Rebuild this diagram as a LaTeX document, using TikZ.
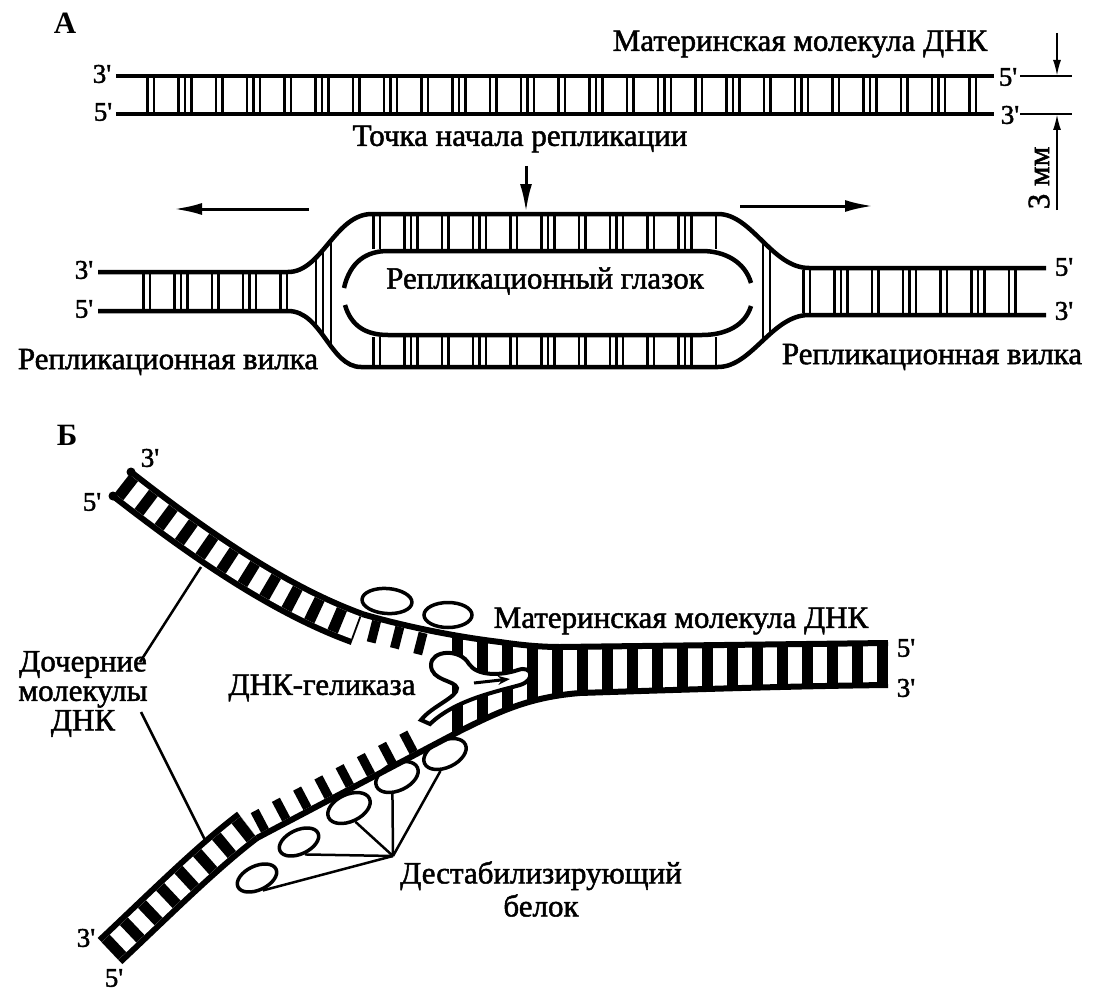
\documentclass[tikz,border=0pt]{standalone}
\usepackage{fontspec}
\setmainfont{Liberation Serif}
\newfontfamily\scanfont{Liberation Serif}[FakeBold=1.6]
\newcommand{\pr}{\textquotesingle}
\usetikzlibrary{arrows.meta,shapes.geometric}

\begin{document}
\begin{tikzpicture}[x=1pt,y=-1pt,
    txt/.style={font=\scanfont\fontsize{31}{33}\selectfont, inner sep=0pt},
    tag/.style={font=\scanfont\fontsize{27}{29}\selectfont, inner sep=0pt},
    strand/.style={line width=4.5pt},
    pairs/.style={line width=#1, dash pattern=on 2.5pt off 4pt on 2.5pt off 22pt on 2.5pt off 4pt on 2.5pt off 4pt on 2.5pt off 22pt},
    rod/.style={line width=2.5pt},
    spread/.style={line width=3pt, -{Latex[length=28pt,width=12pt]}},
    gauge/.style={line width=2pt, -{Latex[length=16pt,width=8pt]}},
    ribbon/.style={line width=6pt, double distance=24pt},
    bars/.style={line width=24pt, dash pattern=on 11pt off 14pt},
    pstrand/.style={line width=6pt},
    teeth/.style={line width=22pt, dash pattern=on 9pt off 15pt},
    ssb/.style={draw, ellipse, line width=3.5pt, minimum width=42pt, minimum height=24pt, inner sep=0pt},
    enzyme/.style={line width=4pt, fill=white},
    leader/.style={line width=2.5pt}]
    \useasboundingbox (0,0) rectangle (1098,1006);

    % part A: parent molecule
    \node[txt, font=\bfseries\fontsize{31}{33}\selectfont] (lblA) at (65,23) {А};
    \node[txt] (parentA) at (800,44) {Материнская молекула ДНК};
    \draw[strand] (116,76) -- (994,76);
    \draw[strand] (116,114) -- (994,114);
    \draw[pairs=34pt] (146,95) -- (988,95);
    \node[tag] (a3l) at (102,74) {3\pr};
    \node[tag] (a5l) at (103,112) {5\pr};
    \node[tag] (a5r) at (1008,77) {5\pr};
    \node[tag] (a3r) at (1010,115) {3\pr};

    % 3 mm gauge
    \coordinate (g5) at (1057,76);
    \coordinate (g3) at (1057,114);
    \draw[line width=2pt] (1020,76) -- (1072,76);
    \draw[line width=2pt] (1020,114) -- (1072,114);
    \draw[gauge] (1057,33) -- (g5);
    \draw[gauge] (1057,210) -- (g3);
    \node[txt, rotate=90] (mm) at (1039,178) {3 мм};

    % origin and fork movement
    \node[txt] (origin) at (520,139) {Точка начала репликации};
    \coordinate (eyetop) at (526,212);
    \draw[spread] (526,166) -- (eyetop);
    \coordinate (goleft) at (174,209);
    \coordinate (goright) at (873,206);
    \draw[spread] (309,209) -- (goleft);
    \draw[spread] (740,206) -- (goright);

    % part A: replication eye
    \draw[strand] (98,272) -- (288,272) .. controls (322,272) and (335,214) .. (372,214) -- (718,214) .. controls (752,214) and (772,268) .. (809,268) -- (1046,268);
    \draw[strand] (98,311) -- (288,311) .. controls (322,311) and (330,367) .. (361,367) -- (718,367) .. controls (752,367) and (772,315) .. (809,315) -- (1046,315);
    \draw[strand] (344,288) .. controls (350,262) and (366,251) .. (388,251) -- (702,251) .. controls (725,251) and (745,262) .. (751,283);
    \draw[strand] (345,305) .. controls (351,326) and (366,335) .. (388,335) -- (702,335) .. controls (725,335) and (745,326) .. (751,306);
    \draw[pairs=35pt] (142,291.5) -- (292,291.5);
    \draw[pairs=33pt] (372,232.5) -- (720,232.5);
    \draw[pairs=28pt] (372,351) -- (720,351);
    \draw[pairs=43pt] (802,291.5) -- (1032,291.5);
    \begin{scope}
        \clip (288,272) .. controls (322,272) and (335,214) .. (372,214) -- (372,367) -- (361,367) .. controls (330,367) and (322,311) .. (288,311) -- cycle;
        \foreach \x in {316,323,331} \draw[rod] (\x,200) -- (\x,380);
    \end{scope}
    \begin{scope}
        \clip (718,214) .. controls (752,214) and (772,268) .. (809,268) -- (809,315) .. controls (772,315) and (752,367) .. (718,367) -- cycle;
        \foreach \x in {763,770} \draw[rod] (\x,200) -- (\x,380);
    \end{scope}
    \node[tag] (e3l) at (84,270) {3\pr};
    \node[tag] (e5l) at (84,309) {5\pr};
    \node[tag] (e5r) at (1064,267) {5\pr};
    \node[tag] (e3r) at (1064,311) {3\pr};
    \node[txt] (eye) at (545,281) {Репликационный глазок};
    \node[txt] (forkl) at (168,362) {Репликационная вилка};
    \node[txt] (forkr) at (932,357) {Репликационная вилка};

    % part B: daughter ribbons
    \node[txt, font=\bfseries\fontsize{31}{33}\selectfont] (lblB) at (67,435) {Б};
    \draw[ribbon] (122,484) .. controls (200,545) and (280,600) .. (357,628);
    \draw[bars] (122,484) .. controls (200,545) and (280,600) .. (357,628);
    \fill (131,472) circle (4.5pt);
    \fill (113,496) circle (4.5pt);
    \draw[ribbon] (110,951) .. controls (160,904) and (206,858) .. (248,826);
    \draw[bars] (110,951) .. controls (160,904) and (206,858) .. (248,826);

    % part B: parent strands and fork
    \draw[pstrand] (362,614) .. controls (400,625) and (450,636) .. (500,642) .. controls (520,645) and (540,647) .. (560,647) -- (888,643);
    \draw[pstrand] (257,838) -- (460,731) .. controls (500,711) and (530,697) .. (580,693) .. controls (700,689) and (800,686) .. (888,685);
    \draw[teeth] (369.5,630.6) -- (432.5,646.6);
    \draw[teeth] (255.8,822.8) -- (418.5,737.1);
    \begin{scope}
        \clip (362,614) .. controls (400,625) and (450,636) .. (500,642) .. controls (520,645) and (540,647) .. (560,647) -- (888,643) -- (888,685) .. controls (800,686) and (700,689) .. (580,693) .. controls (530,697) and (500,711) .. (460,731) -- (362,783) -- cycle;
        \draw[line width=120pt, dash pattern=on 11pt off 14pt] (452,684) -- (888,684);
    \end{scope}
    \draw[enzyme] (421,720) .. controls (432,706) and (458,697) .. (457,688)
        .. controls (455,680) and (431,681) .. (431,665)
        .. controls (431,650) and (460,648) .. (469,664)
        .. controls (477,676) and (500,676) .. (518,670)
        .. controls (532,665) and (536,680) .. (520,685)
        .. controls (495,692) and (455,700) .. (430,724) -- cycle;
    \draw[line width=3pt, -{Stealth[length=12pt,width=9pt]}] (474,683) -- (510,679);

    % part B: proteins
    \node[ssb, minimum width=50pt, minimum height=25pt, rotate=-4] (ea) at (387,601) {};
    \node[ssb, minimum width=48pt, minimum height=25pt] (eb) at (448,615) {};
    \node[ssb, rotate=25] (e1) at (257,878) {};
    \node[ssb, rotate=25] (e2) at (299,842) {};
    \node[ssb, rotate=25, minimum width=45pt, minimum height=27pt] (e3) at (349,808) {};
    \node[ssb, rotate=25, minimum width=45pt, minimum height=27pt] (e4) at (397,777) {};
    \node[ssb, rotate=25, minimum width=45pt, minimum height=27pt] (e5) at (445,754) {};
    \coordinate (tip) at (393,856);
    \foreach \e/\a in {e1/south, e2/south, e3/south, e4/-130, e5/-130}
        \draw[leader] (\e.\a) -- (tip);

    % part B: labels
    \node[tag] (u3) at (150,458) {3\pr};
    \node[tag] (u5) at (92,502) {5\pr};
    \node[tag] (l3) at (86,938) {3\pr};
    \node[tag] (l5) at (114,978) {5\pr};
    \node[tag] (m5) at (906,648) {5\pr};
    \node[tag] (m3) at (906,688) {3\pr};
    \node[txt] (parentB) at (681,621) {Материнская молекула ДНК};
    \node[txt] (helicase) at (322,688) {ДНК-геликаза};
    \node[txt, align=center, font=\scanfont\fontsize{31}{29.5}\selectfont] (daughters) at (83,694) {Дочерние\\молекулы\\ДНК};
    \node[txt, align=center] (ssbname) at (541,889) {Дестабилизирующий\\белок};
    \coordinate (dtag1) at (140,662);
    \coordinate (dtag2) at (141,712);
    \coordinate (dup) at (201,567);
    \coordinate (dlow) at (206,842);
    \draw[leader] (dtag1) -- (dup);
    \draw[leader] (dtag2) -- (dlow);
\end{tikzpicture}
\end{document}
